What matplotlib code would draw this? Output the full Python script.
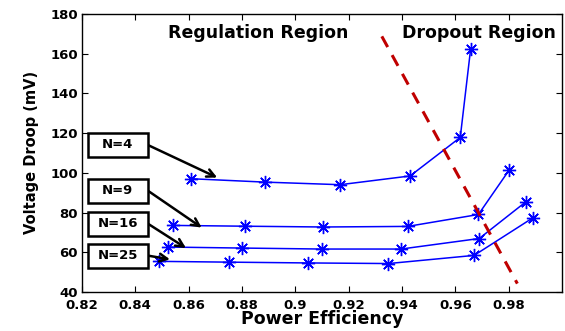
import numpy as np
import matplotlib.pyplot as plt
from matplotlib.patches import Rectangle

plt.rcParams['font.family'] = ['DejaVu Sans']
plt.rcParams['font.weight'] = 'bold'

# efficiency / droop
eff_n4 = [0.861, 0.8886, 0.9168, 0.943, 0.9618, 0.9657]
droop_n4 = [97.0, 95.3, 94.0, 98.4, 117.8, 162.5]
eff_n9 = [0.854, 0.8811, 0.9105, 0.9421, 0.9686, 0.9802]
droop_n9 = [73.5, 73.1, 72.7, 73.0, 79.0, 101.5]
eff_n16 = [0.8524, 0.8799, 0.9099, 0.9396, 0.9689, 0.9865]
droop_n16 = [62.6, 62.1, 61.6, 61.6, 66.9, 85.5]
eff_n25 = [0.849, 0.8752, 0.9049, 0.9349, 0.967, 0.989]
droop_n25 = [55.4, 55.0, 54.6, 54.3, 58.4, 77.3]

# dropout boundary
bound_x = [0.9324, 0.9832]
bound_y = [168.7, 44.2]

labels = ['N=4', 'N=9', 'N=16', 'N=25']
label_y = [114, 91, 74.4, 58.3]
arrow_to = [(0.8707, 97.6), (0.8649, 72.4), (0.859, 62.1), (0.853, 56.4)]

fig = plt.figure(figsize=(5.65, 3.31), dpi=100)
ax = fig.add_axes([0.145, 0.118, 0.85, 0.84])

star = (8, 2, 0)
for x, y in [(eff_n4, droop_n4), (eff_n9, droop_n9), (eff_n16, droop_n16), (eff_n25, droop_n25)]:
    ax.plot(x, y, color='blue', marker=star, markersize=9.5, lw=1.1,
            markeredgewidth=1.0)
ax.plot(bound_x, bound_y, color='#c00000', ls='--', lw=2.2, dashes=(4, 3))

# labelled boxes with arrows
box_w, box_h = 0.0225, 12.0
box_x = 0.8222
for lab, ly, (tx, ty) in zip(labels, label_y, arrow_to):
    ax.add_patch(Rectangle((box_x, ly - box_h / 2), box_w, box_h, fc='white',
                           ec='black', lw=1.8, zorder=4))
    ax.text(box_x + box_w / 2, ly, lab, fontsize=9.5, fontweight='bold',
            ha='center', va='center', zorder=5)
    ax.annotate('', xy=(tx, ty), xytext=(box_x + box_w, ly),
                arrowprops=dict(arrowstyle='->', color='black', lw=1.8,
                                shrinkA=0, shrinkB=0, mutation_scale=14))

ax.text(0.886, 170.5, 'Regulation Region', fontsize=12.5, fontweight='bold',
        ha='center', va='center')
ax.text(0.9689, 170.5, 'Dropout Region', fontsize=12.5, fontweight='bold',
        ha='center', va='center')

ax.set_xlim(0.82, 1.0)
ax.set_ylim(40, 180)
ax.set_xticks(np.arange(0.82, 0.99, 0.02))
ax.set_xticklabels(['0.82', '0.84', '0.86', '0.88', '0.9', '0.92', '0.94', '0.96', '0.98'])
ax.set_yticks(np.arange(40, 181, 20))
ax.tick_params(direction='in', top=True, right=True, labelsize=9.5, length=4, pad=3)
ax.tick_params(axis='x', pad=5)
for lbl in ax.get_xticklabels() + ax.get_yticklabels():
    lbl.set_fontweight('bold')
for s in ax.spines.values():
    s.set_linewidth(1.0)
ax.set_xlabel('Power Efficiency', fontsize=12.5, fontweight='bold', labelpad=-1)
ax.set_ylabel('Voltage Droop (mV)', fontsize=10.5, fontweight='bold', labelpad=8)

fig.savefig('out.png', dpi=100)
